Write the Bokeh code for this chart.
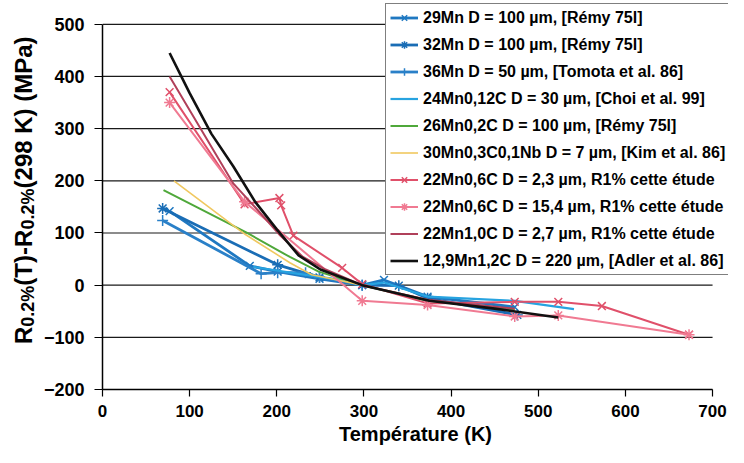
import math
from bokeh.plotting import figure
from bokeh.layouts import row
from bokeh.models import Legend, LegendItem, FixedTicker, Range1d
from bokeh.core.properties import value
from bokeh.embed import file_html
from bokeh.resources import INLINE

# ---------------- data ----------------
X_TICKS = [0, 100, 200, 300, 400, 500, 600, 700]
Y_TICKS = [-200, -100, 0, 100, 200, 300, 400, 500]

LABELS = [
    "29Mn D = 100 µm, [Rémy 75l]",
    "32Mn D = 100 µm, [Rémy 75l]",
    "36Mn D = 50 µm, [Tomota et al. 86]",
    "24Mn0,12C D = 30 µm, [Choi et al. 99]",
    "26Mn0,2C D = 100 µm, [Rémy 75l]",
    "30Mn0,3C0,1Nb D = 7 µm, [Kim et al. 86]",
    "22Mn0,6C D = 2,3 µm, R1% cette étude",
    "22Mn0,6C D = 15,4 µm, R1% cette étude",
    "22Mn1,0C D = 2,7 µm, R1% cette étude",
    "12,9Mn1,2C D = 220 µm, [Adler et al. 86]",
]

T_29MN = [77, 169, 201, 249, 298, 323, 373, 473]
V_29MN = [142, 37, 26, 12, 0, 10, -22, -42]
T_32MN = [69, 201, 249, 298, 340, 373, 476]
V_32MN = [147, 39, 15, 0, -1, -25, -57]
T_36MN = [69, 182, 201, 233, 249, 298]
V_36MN = [124, 22, 24, 24, 15, 0]
T_24MN = [173, 223, 273, 298, 323, 373, 473, 541]
V_24MN = [35, 22, 10, 0, 5, -22, -30, -46]
T_26MN = [70, 166, 215, 248, 298, 373, 473]
V_26MN = [182, 100, 54, 26, 0, -30, -47]
T_30MN = [82, 164, 215, 240, 298, 373]
V_30MN = [200, 97, 43, 20, 0, -28]
T_22MN_A = [77, 163, 203, 205, 219, 275, 298, 373, 473, 523, 573, 673]
V_22MN_A = [370, 155, 167, 153, 95, 33, 2, -35, -32, -32, -40, -95]
T_22MN_B = [77, 163, 298, 373, 473, 523, 673]
V_22MN_B = [350, 160, -30, -38, -60, -58, -95]
T_22MN1 = [77, 150, 178, 204, 230, 256, 298, 373, 473]
V_22MN1 = [400, 195, 144, 95, 54, 30, 0, -28, -45]
T_129MN = [77, 100, 125, 150, 175, 200, 225, 250, 298, 375, 450, 523]
V_129MN = [445, 368, 290, 228, 160, 107, 57, 30, 0, -30, -45, -62]

# y-axis title split into normal-size parts and subscript parts
YTITLE_MAIN = ["R", "(T)-R", "(298 K) (MPa)"]
YTITLE_SUB = ["0.2%", "0.2%"]

# ---------------- styles ----------------
SERIES = [
    (T_29MN, V_29MN, "#1f78c1", 2.8, "x"),
    (T_32MN, V_32MN, "#1a6db5", 2.8, "asterisk"),
    (T_36MN, V_36MN, "#2a80c8", 2.8, "cross"),
    (T_24MN, V_24MN, "#27a3e0", 2.2, None),
    (T_26MN, V_26MN, "#4fa83a", 2.0, None),
    (T_30MN, V_30MN, "#f0c860", 1.6, None),
    (T_22MN_A, V_22MN_A, "#e0506a", 2.0, "x"),
    (T_22MN_B, V_22MN_B, "#f07a92", 2.0, "asterisk"),
    (T_22MN1, V_22MN1, "#b0405a", 2.0, None),
    (T_129MN, V_129MN, "#111111", 2.6, None),
]

FONT = "Liberation Sans"
H = 447
LEFT_W = 40
MAIN_W = 688
Y_START, Y_END = -200, 545.6

# ---------------- main chart ----------------
p = figure(width=MAIN_W, height=H, output_backend="svg", toolbar_location=None,
           x_range=Range1d(0, 718.3), y_range=Range1d(Y_START, Y_END),
           min_border_left=61, min_border_right=0, min_border_top=0,
           min_border_bottom=55)
p.outline_line_color = None
p.background_fill_color = "white"
p.border_fill_color = "white"
p.grid.visible = False

# horizontal gridlines at the y ticks, spanning the x tick range
p.segment(x0=[X_TICKS[0]] * len(Y_TICKS), x1=[X_TICKS[-1]] * len(Y_TICKS),
          y0=Y_TICKS, y1=Y_TICKS, line_color="#1a1a1a", line_width=1.2)

p.xaxis.ticker = FixedTicker(ticks=X_TICKS)
p.yaxis.ticker = FixedTicker(ticks=Y_TICKS)
p.xaxis.bounds = (X_TICKS[0], X_TICKS[-1])
p.yaxis.bounds = (Y_TICKS[0], Y_TICKS[-1])
for ax in (p.xaxis, p.yaxis):
    ax.axis_line_color = "black"
    ax.axis_line_width = 1.5
    ax.major_tick_line_color = "black"
    ax.major_tick_line_width = 1.2
    ax.major_tick_in = 0
    ax.minor_tick_out = 0
    ax.minor_tick_in = 0
    ax.major_label_text_font = FONT
    ax.major_label_text_font_style = "bold"
    ax.major_label_text_color = "black"
p.yaxis.major_tick_out = 8
p.xaxis.major_tick_out = 7
p.xaxis.major_label_text_font_size = "17px"
p.yaxis.major_label_text_font_size = "18px"
p.xaxis.major_label_standoff = 8
p.yaxis.major_label_standoff = 10
p.xaxis.axis_label = "Température (K)"
p.xaxis.axis_label_text_font = FONT
p.xaxis.axis_label_text_font_style = "bold"
p.xaxis.axis_label_text_font_size = "20px"
p.xaxis.axis_label_text_color = "black"
p.xaxis.axis_label_standoff = 3

items = []
for (t, v, color, lw, marker), lab in zip(SERIES, LABELS):
    rs = [p.line(t, v, line_color=color, line_width=lw)]
    if marker is not None:
        rs.append(p.scatter(t, v, marker=marker, size=11, line_color=color,
                            line_width=1.5, fill_color=None))
    items.append(LegendItem(label=lab, renderers=rs))

legend = Legend(items=items, location=(283, 114),
                border_line_color="black", border_line_width=1,
                background_fill_color="white", background_fill_alpha=1.0,
                label_text_font=FONT, label_text_font_style="bold",
                label_text_font_size="16px", label_text_color="black",
                glyph_width=28, glyph_height=19, label_height=19,
                label_standoff=5, spacing=8, padding=4, margin=0)
p.add_layout(legend, "center")

# ---------------- y-axis title (with subscripts) in a narrow strip ----------------
# the strip shares the main chart's y range (row layouts align the frames)
q = figure(width=LEFT_W, height=H, output_backend="svg", toolbar_location=None,
           x_range=Range1d(0, LEFT_W), y_range=p.y_range,
           x_axis_location=None, y_axis_location=None,
           min_border=0, min_border_left=0, min_border_right=0,
           min_border_top=0, min_border_bottom=55)
q.outline_line_color = None
q.background_fill_color = "white"
q.border_fill_color = "white"
q.grid.visible = False

MAIN_FS, SUB_FS = 24, 18
PX_PER_UNIT = 388.4 / (Y_END - Y_START)   # frame height / y span
w_main = [0.722, 2.332, 6.334]            # Liberation/Arial bold advances (em)
w_sub = [2.279, 2.279]
cur = -113.0                              # bottom of the title, in y units
main_c, sub_c = [], []
for i in range(3):
    L = w_main[i] * MAIN_FS / PX_PER_UNIT
    main_c.append(cur + L / 2)
    cur += L
    if i < 2:
        Ls = w_sub[i] * SUB_FS / PX_PER_UNIT
        sub_c.append(cur + Ls / 2)
        cur += Ls

q.text(x=[23.0] * 3, y=main_c, text=YTITLE_MAIN, angle=math.pi / 2,
       text_font=value(FONT), text_font_style="bold",
       text_font_size=f"{MAIN_FS}px", text_align="center",
       text_baseline="middle", text_color="black")
q.text(x=[27.5] * 2, y=sub_c, text=YTITLE_SUB, angle=math.pi / 2,
       text_font=value(FONT), text_font_style="bold",
       text_font_size=f"{SUB_FS}px", text_align="center",
       text_baseline="middle", text_color="black")

layout = row(q, p)
open("out.html", "w").write(file_html(layout, INLINE))
